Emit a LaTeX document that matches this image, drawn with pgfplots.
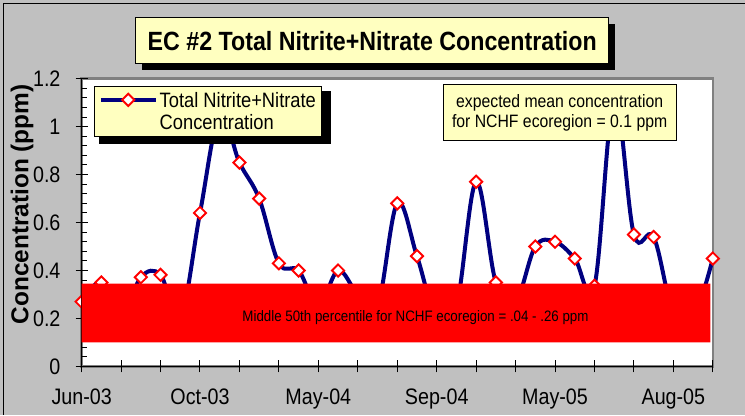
\documentclass[border=0pt]{standalone}
\usepackage{fontspec}
\setmainfont{Liberation Sans}[FakeStretch=0.88]
\newfontfamily\ylabfont{Liberation Sans}
\usepackage{pgfplots}
\pgfplotsset{compat=1.18}
\usetikzlibrary{shadows}
\definecolor{navyc}{HTML}{000080}
\definecolor{bgc}{HTML}{C0C0C0}
\definecolor{framec}{HTML}{808080}
\definecolor{ltyellow}{HTML}{FFFFC0}
\pgfplotstableread{
idx val
0 0.27
1 0.35
2 0.20
3 0.372
4 0.382
5 0.20
6 0.64
7 1.05
8 0.85
9 0.70
10 0.43
11 0.40
12 0.25
13 0.40
14 0.30
15 0.25
16 0.68
17 0.46
18 0.20
19 0.25
20 0.77
21 0.35
22 0.27
23 0.50
24 0.52
25 0.45
26 0.336
27 1.12
28 0.55
29 0.54
30 0.22
31 0.20
32 0.45
}\ecdata
\begin{document}
\begin{tikzpicture}[x=1bp,y=1bp]
\fill[bgc] (0,0) rectangle (745,415);
\draw[black, line width=1bp] (3.5,0) -- (3.5,411.5) -- (745,411.5);
\begin{axis}[
  clip=false, clip marker paths=true,
  at={(81.7bp,48.3bp)}, anchor=south west,
  scale only axis, width=631.6bp, height=288bp,
  xmin=0, xmax=32, ymin=0, ymax=1.2,
  axis background/.style={fill=white, draw=framec, line width=2.5bp},
  axis line style={draw=none},
  tickpos=left,
  xtick={0,2,...,32},
  xticklabels={Jun-03,,,Oct-03,,,May-04,,,Sep-04,,,May-05,,,Aug-05,},
  ytick={0,0.2,0.4,0.6,0.8,1,1.2},
  minor y tick num=4,
  tick align=center,
  major tick length=12bp,
  minor tick length=5bp,
  tick style={black, line width=1bp},
  minor tick style={xshift=2.5bp},
  ticklabel style={font=\fontsize{22.5}{27}\selectfont, inner sep=0pt},
  yticklabel style={anchor=east, xshift=-15bp, /pgf/number format/assume math mode=true, /pgf/number format/fixed},
  xticklabel style={anchor=north, yshift=-16bp},
  legend style={at={(axis description cs:0.02,0.9757)}, anchor=north west,
    fill=ltyellow, draw=black, line width=1bp,
    font=\fontsize{20.9}{22}\selectfont, inner xsep=4bp, inner ysep=4bp,
    cells={anchor=west, align=left}},
  legend image code/.code={\draw[mark repeat=2, mark phase=2, #1] plot coordinates {(0bp,11.5bp) (27.5bp,11.5bp) (55bp,11.5bp)};},
]
\addplot[color=navyc, line width=4bp, smooth, tension=0.6,
  mark=square*, mark size=4.3bp,
  mark options={rotate=45, fill=white, draw=red, line width=1.9bp, solid}]
  table[x=idx, y=val] {\ecdata};
\addlegendentry{Total Nitrite+Nitrate\\Concentration}
\draw[black, line width=1.3bp] (rel axis cs:0,1) -- (rel axis cs:0,0) -- (rel axis cs:1,0);
\fill[black] (axis cs:0.892,0.928) rectangle (axis cs:12.666,1.15);
\addplot[draw=none, fill=red, forget plot] coordinates {(0,0.1) (0,0.345) (31.88,0.345) (31.88,0.1) (0,0.1)};
\end{axis}
\node[anchor=base, inner sep=0pt, font=\fontsize{15.2}{18}\selectfont] at (415.8,93.3) {Middle 50th percentile for NCHF ecoregion = .04 - .26 ppm};
\node[fill=ltyellow, draw=black, line width=1bp, minimum width=233.4bp, minimum height=55.7bp, align=center, inner sep=0pt, font=\fontsize{18}{20.7}\selectfont] at (560,302.1) {expected mean concentration\\for NCHF ecoregion = 0.1 ppm};
\node[fill=ltyellow, draw=black, line width=1bp, minimum width=473bp, minimum height=46bp, inner sep=0pt, font=\bfseries\fontsize{26.5}{30}\selectfont, drop shadow={shadow xshift=6bp, shadow yshift=-6bp, fill=black, opacity=1}] at (372.5,374) {EC \#2 Total Nitrite+Nitrate Concentration};
\node[rotate=90, inner sep=0pt, font=\ylabfont\bfseries\fontsize{24.5}{28}\selectfont] at (22,210.5) {Concentration (ppm)};
\end{tikzpicture}
\end{document}
